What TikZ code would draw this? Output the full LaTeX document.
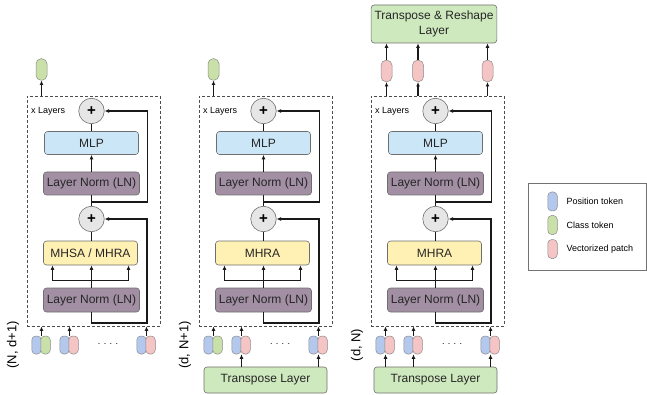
\documentclass[tikz,border=0pt]{standalone}
\usepackage{fontspec}
\setmainfont{Liberation Sans}
\usetikzlibrary{arrows.meta}
\usetikzlibrary{positioning}
\definecolor{tokblue}{RGB}{180,200,238}
\definecolor{tokgreen}{RGB}{201,225,169}
\definecolor{tokred}{RGB}{245,196,196}
\definecolor{mlpblue}{RGB}{203,231,247}
\definecolor{lnpurple}{RGB}{162,143,164}
\definecolor{attyellow}{RGB}{255,240,180}
\definecolor{trgreen}{RGB}{207,233,190}
\definecolor{plusgray}{RGB}{230,230,230}
\definecolor{edgegray}{RGB}{110,110,110}
\tikzset{blk/.style = {draw=edgegray, line width=0.6pt, rounded corners=3pt,
                       minimum width=94pt, minimum height=23pt,
                       text=black!85, font=\fontsize{12}{14}\selectfont}}
\tikzset{plus/.style = {circle, draw=edgegray, line width=0.6pt, fill=plusgray,
                        minimum size=25.5pt, inner sep=0,
                        font=\fontsize{15}{15}\selectfont\bfseries}}
\tikzset{tok/.style = {draw=edgegray!80, line width=0.5pt, rounded corners=4pt,
                       minimum width=9.5pt, minimum height=18pt, inner sep=0}}
\tikzset{outtok/.style = {minimum width=11pt, minimum height=21.5pt, rounded corners=5pt}}
\tikzset{frame/.style = {draw=black!70, dash pattern=on 3pt off 2pt, line width=0.9pt,
                         minimum width=133pt, minimum height=230pt, inner sep=0}}
\tikzset{conn/.style = {line width=1.2pt, black!90}}
\tikzset{arr/.style = {conn, -{Latex[length=4.5pt, width=4pt]}}}
\tikzset{small/.style = {font=\fontsize{9}{11}\selectfont, inner sep=0}}
\newcommand\attA{MHSA / MHRA}

\begin{document}
\begin{tikzpicture}[x=1pt, y=-1pt]
    \useasboundingbox (0, 0) rectangle (647, 395);

    \foreach \sx/\att/\dims/\fc [count=\i] in {0/\attA/{(N, d+1)}/tokgreen,
                                              172/MHRA/{(d, N+1)}/tokgreen,
                                              344/MHRA/{(d, N)}/tokred} {
      \begin{scope}[shift={(\sx, 0)}]
        \node [frame] (frame\i) at (93.5, 211) {};
        \node [small, anchor=west] (xl\i) at (31, 111) {x Layers};
        \node [plus] (add\i) at (91.5, 111) {+};
        \node [blk, fill=mlpblue] (mlp\i) at (91.5, 143) {MLP};
        \node [blk, fill=lnpurple] (lnb\i) at (91.5, 183.5) {Layer Norm (LN)};
        \node [plus] (adda\i) at (91.5, 219) {+};
        \node [blk, fill=attyellow, minimum height=24pt] (att\i) at (90.5, 253) {\att};
        \node [blk, fill=lnpurple, minimum height=24pt] (lna\i) at (91.5, 300) {Layer Norm (LN)};
        \coordinate (resa\i) at (147.5, 202);
        \coordinate (resb\i) at (147, 323);

        \draw [arr] (lna\i.north) -- (lna\i.north |- att\i.south);
        \draw [arr] (lna\i.north) -- ++(0, -7) -| ([xshift=-38pt]att\i.south);
        \draw [arr] (lna\i.north) -- ++(0, -7) -| ([xshift=38pt]att\i.south);
        \draw [conn] (att\i.north -| adda\i.south) -- (adda\i.south);
        \draw [conn] (adda\i) -- (lnb\i);
        \draw [arr] (lnb\i) -- (mlp\i);
        \draw [conn] (mlp\i) -- (add\i);
        \draw [arr] (lna\i.south) |- (resb\i) |- (adda\i.east);
        \draw [arr] (lnb\i.south |- resa\i) -- (resa\i) |- (add\i.east);

        \node [rotate=90, font=\fontsize{13}{15}\selectfont] (dim\i) at (13, 345) {\dims};
        \foreach \px/\pc [count=\j] in {41/\fc, 69/tokred, 146/tokred} {
          \node [tok, fill=tokblue] (pb\i-\j) at (\px-4.5, 345) {};
          \node [tok, fill=\pc] (pc\i-\j) at (\px+4.5, 345) {};
          \draw [arr] (pb\i-\j.north east) -- (pb\i-\j.north east |- frame\i.south);
        }
        \node [small] (dots\i) at (108, 344) {. . . .};
      \end{scope}
    }

    % transpose layers below
    \node [blk, fill=trgreen, minimum width=123pt, minimum height=26pt] (tr2) at (265.5, 380) {Transpose Layer};
    \node [blk, fill=trgreen, minimum width=123pt, minimum height=26pt] (tr3) at (435.5, 380) {Transpose Layer};
    \foreach \j in {2, 3}
      \draw [arr] (tr2.north -| pb2-\j.south east) -- (pb2-\j.south east);
    \foreach \j in {1, 2, 3}
      \draw [arr] (tr3.north -| pb3-\j.south east) -- (pb3-\j.south east);

    % outputs
    \foreach \i/\ox in {1/41.5, 2/213.5} {
      \node [tok, outtok, fill=tokgreen] (out\i) at (\ox, 69.5) {};
      \draw [arr] (out\i.south |- frame\i.north) -- (out\i.south);
    }
    \node [blk, fill=trgreen, minimum width=122pt, minimum height=38pt, align=center,
           font=\fontsize{12}{15}\selectfont] (rs) at (434, 24) {Transpose \& Reshape\\Layer};
    \foreach \ox [count=\j] in {386.5, 418, 487.5} {
      \node [tok, outtok, fill=tokred] (out3-\j) at (\ox, 71) {};
      \draw [arr] (out3-\j.south |- frame3.north) -- (out3-\j.south);
      \draw [arr] (out3-\j.north) -- (out3-\j.north |- rs.south);
    }

    % legend
    \node [draw=black!55, line width=0.5pt, minimum width=118pt, minimum height=87pt, inner sep=0] (legend) at (587, 226.5) {};
    \node [tok, fill=tokblue, minimum height=19pt] (leg1) at (552.5, 201.5) {};
    \node [tok, fill=tokgreen, minimum height=19pt] (leg2) at (552.5, 225) {};
    \node [tok, fill=tokred, minimum height=19pt] (leg3) at (552.5, 249) {};
    \node [small, anchor=west, right=9pt of leg1] (legt1) {Position token};
    \node [small, anchor=west, right=9pt of leg2] (legt2) {Class token};
    \node [small, anchor=west, right=9pt of leg3] (legt3) {Vectorized patch};
\end{tikzpicture}
\end{document}
